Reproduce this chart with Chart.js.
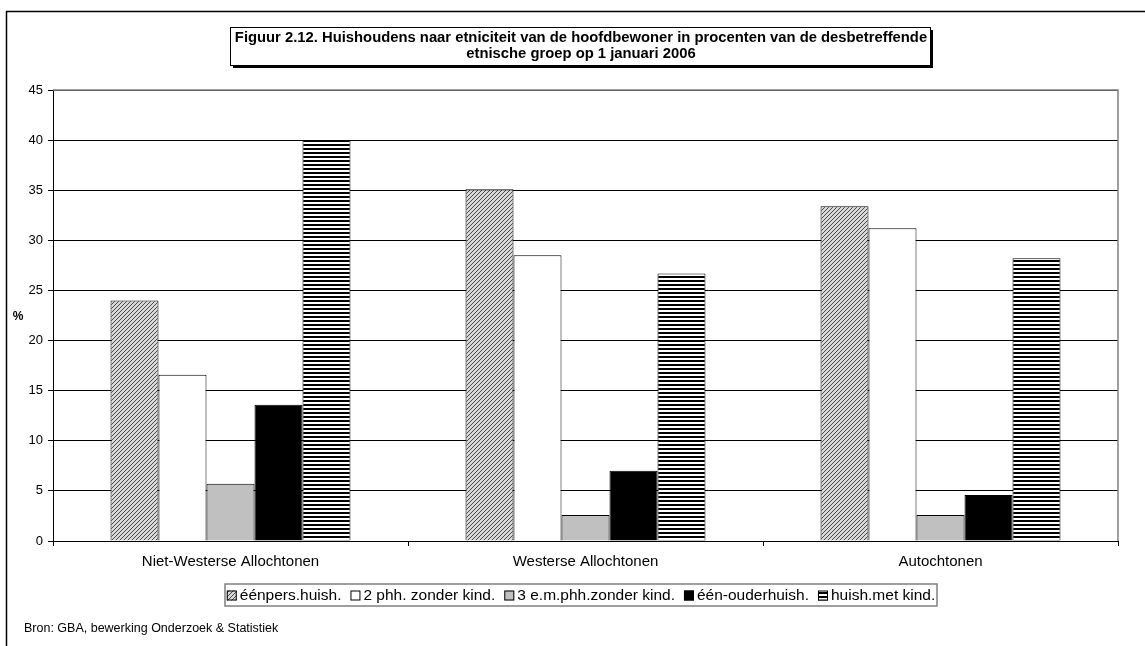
<!DOCTYPE html>
<html lang="nl">
<head>
<meta charset="UTF-8">
<title>Figuur 2.12</title>
<style>
  html, body { margin: 0; padding: 0; background: #fff; }
  #wrap { width: 1145px; height: 646px; }
</style>
</head>
<body>
<div id="wrap"><canvas id="plot" width="1145" height="646"></canvas></div>
<script src="https://cdn.jsdelivr.net/npm/chart.js"></script>
<script>
const categories = ['Niet-Westerse Allochtonen', 'Westerse Allochtonen', 'Autochtonen'];
const seriesNames = ['éénpers.huish.', '2 phh. zonder kind.', '3 e.m.phh.zonder kind.', 'één-ouderhuish.', 'huish.met kind.'];
const eenpers = [24.0, 35.1, 33.4];
const tweePhh = [16.6, 28.5, 31.2];
const drieEm = [5.7, 2.6, 2.6];
const eenOuder = [13.6, 7.0, 4.6];
const metKind = [40.0, 26.7, 28.2];
const titleLines = [
  'Figuur 2.12. Huishoudens naar etniciteit van de hoofdbewoner in procenten van de desbetreffende',
  'etnische groep op 1 januari 2006'
];
const source = 'Bron: GBA, bewerking Onderzoek & Statistiek';
const FONT = '"Liberation Sans", Arial, sans-serif';

function makePattern(w, h, draw) {
  const c = document.createElement('canvas');
  c.width = w; c.height = h;
  const g = c.getContext('2d');
  draw(g);
  return document.getElementById('plot').getContext('2d').createPattern(c, 'repeat');
}

const hatch = makePattern(4, 4, g => {
  g.fillStyle = '#d8d8d8';
  g.fillRect(0, 0, 4, 4);
  g.fillStyle = '#4a4a4a';
  for (let i = 0; i < 4; i++) {
    g.fillRect(3 - i, i, 1, 1);
  }
});
const stripes = makePattern(4, 4, g => {
  g.fillStyle = '#fff';
  g.fillRect(0, 0, 4, 4);
  g.fillStyle = '#000';
  g.fillRect(0, 0, 4, 2);
});

const seriesValues = [eenpers, tweePhh, drieEm, eenOuder, metKind];
const fills = [hatch, '#ffffff', '#c0c0c0', '#000000', stripes];

const datasets = seriesValues.map((vals, i) => ({
  label: seriesNames[i],
  data: vals,
  backgroundColor: fills[i],
  borderColor: '#000',
  borderWidth: 1,
  borderSkipped: 'bottom',
  categoryPercentage: 0.676,
  barPercentage: 1.0
}));

const decor = {
  id: 'decor',
  beforeDraw(chart) {
    const ctx = chart.ctx;
    ctx.save();
    ctx.fillStyle = '#fff';
    ctx.fillRect(0, 0, chart.width, chart.height);
    ctx.restore();
  },
  afterDraw(chart) {
    const ctx = chart.ctx;
    const a = chart.chartArea;
    ctx.save();
    // outer frame
    ctx.strokeStyle = '#000';
    ctx.lineWidth = 1.5;
    ctx.beginPath();
    ctx.moveTo(6.5, chart.height);
    ctx.lineTo(6.5, 11.5);
    ctx.lineTo(chart.width, 11.5);
    ctx.stroke();

    // plot area top + right border
    ctx.strokeStyle = '#808080';
    ctx.lineWidth = 1.5;
    ctx.beginPath();
    ctx.moveTo(a.left, a.top);
    ctx.lineTo(a.right, a.top);
    ctx.lineTo(a.right, a.bottom);
    ctx.stroke();

    // title box with shadow
    const tx = 230, ty = 27, tw = 700, th = 38;
    ctx.fillStyle = '#000';
    ctx.fillRect(tx + 3, ty + 3, tw, th);
    ctx.fillStyle = '#fff';
    ctx.fillRect(tx, ty, tw, th);
    ctx.strokeStyle = '#000';
    ctx.lineWidth = 1;
    ctx.strokeRect(tx + 0.5, ty + 0.5, tw, th);
    ctx.fillStyle = '#000';
    ctx.font = 'bold 14.8px ' + FONT;
    ctx.textAlign = 'center';
    ctx.textBaseline = 'middle';
    ctx.fillText(titleLines[0], tx + tw / 2 + 1, ty + 11);
    ctx.fillText(titleLines[1], tx + tw / 2 + 1, ty + 27);

    // y axis label
    ctx.font = 'bold 12px ' + FONT;
    ctx.fillText('%', 18, 317);

    // legend
    ctx.font = '15.5px ' + FONT;
    const box = 10, gapBox = 3, gapItem = 9;
    let total = 0;
    const widths = chart.data.datasets.map(d => ctx.measureText(d.label).width);
    widths.forEach(w => { total += box + gapBox + w; });
    total += gapItem * (widths.length - 1);
    const lx0 = 225, lw = 712, ly = 584, lh = 22;
    ctx.fillStyle = '#fff';
    ctx.fillRect(lx0, ly, lw, lh);
    ctx.strokeStyle = '#808080';
    ctx.lineWidth = 1.5;
    ctx.strokeRect(lx0, ly, lw, lh);
    let x = lx0 + (lw - total) / 2;
    const cy = ly + lh / 2 + 0.5;
    ctx.textAlign = 'left';
    chart.data.datasets.forEach((d, i) => {
      ctx.fillStyle = d.backgroundColor;
      ctx.fillRect(x, cy - box / 2, box, box);
      ctx.strokeStyle = '#000';
      ctx.lineWidth = 1;
      ctx.strokeRect(x + 0.5, cy - box / 2 + 0.5, box - 1, box - 1);
      x += box + gapBox;
      ctx.fillStyle = '#000';
      ctx.fillText(d.label, x, cy);
      x += widths[i] + gapItem;
    });

    // source
    ctx.font = '12.5px ' + FONT;
    ctx.fillText(source, 24, 629);
    ctx.restore();
  }
};

new Chart(document.getElementById('plot'), {
  type: 'bar',
  data: { labels: categories, datasets },
  options: {
    responsive: false,
    animation: false,
    devicePixelRatio: 1,
    layout: { padding: { top: 90, right: 27, bottom: 70, left: 0 } },
    plugins: {
      legend: { display: false },
      title: { display: false },
      tooltip: { enabled: false }
    },
    scales: {
      x: {
        afterFit(scale) { scale.height = 35; },
        grid: {
          offset: true,
          drawOnChartArea: false,
          drawTicks: true,
          tickLength: 5,
          color: '#000'
        },
        border: { color: '#000', width: 1 },
        ticks: {
          color: '#000',
          font: { family: FONT, size: 15 },
          padding: 7
        }
      },
      y: {
        min: 0,
        max: 45,
        afterFit(scale) { scale.width = 53; },
        grid: {
          color: '#000',
          lineWidth: 1,
          drawTicks: true,
          tickLength: 5
        },
        border: { color: '#000', width: 1 },
        ticks: {
          stepSize: 5,
          color: '#000',
          padding: 5,
          font: { family: FONT, size: 13 }
        }
      }
    }
  },
  plugins: [decor]
});
</script>
</body>
</html>
